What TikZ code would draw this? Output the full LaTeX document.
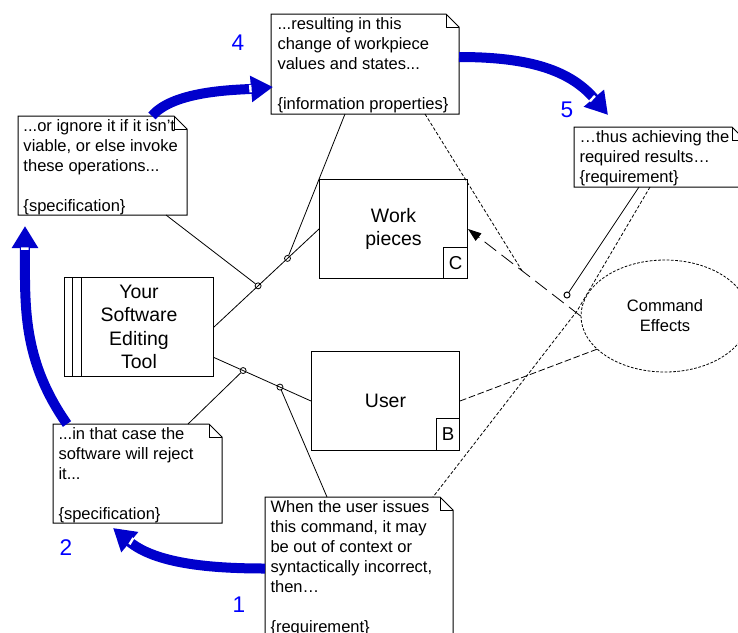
\documentclass[tikz,border=0pt]{standalone}
\usepackage{fontspec}
\setmainfont{Liberation Sans}
\usetikzlibrary{shapes.geometric,arrows.meta,calc,decorations.markings}

\definecolor{arrowblue}{RGB}{0,0,204}
\definecolor{numblue}{RGB}{0,0,255}

\tikzset{every picture/.style={line width=0.75pt}}
\tikzset{
  domainbox/.style={draw, rectangle, inner sep=0pt, anchor=north west, align=center, font=\fontsize{14.6}{17.6}\selectfont},
  cornerbox/.style={draw, rectangle, inner sep=0pt, anchor=south east, font=\fontsize{14}{16}\selectfont},
  notebox/.style={rectangle, inner sep=0pt, anchor=north west},
  notetext/.style={anchor=north west, inner sep=0pt, align=left, font=\fontsize{12.4}{15}\selectfont},
  portdot/.style={draw, circle, inner sep=0pt, minimum size=4.5pt},
  linkline/.style={line width=0.6pt},
  traceline/.style={line width=0.6pt, dash pattern=on 2.5pt off 1.5pt},
  refline/.style={line width=0.6pt, dash pattern=on 5pt off 2pt},
  constrain/.style={line width=0.6pt, dash pattern=on 11pt off 5pt, -{Triangle[length=10pt,width=7pt]}},
  stepnum/.style={text=numblue, inner sep=0pt, font=\fontsize{17}{20}\selectfont},
  bluearrow/.style={draw=arrowblue, line width=7.5pt, -{Triangle[length=16.5pt,width=18.75pt]},
    postaction={decorate, decoration={markings, mark=at position -17pt with {\fill[white] (-0.9pt,-2.8pt) rectangle (0.9pt,2.8pt);}}}}
}

\begin{document}
\begin{tikzpicture}[x=0.75pt,y=0.75pt,yscale=-1,xscale=1]
\useasboundingbox (0,0) rectangle (738,632);
\clip (0,0) rectangle (738,632);

%Shape: Rectangle (machine)
\node[domainbox, minimum width=111.75pt, minimum height=74.25pt] (tool) at (64,277) {Your\\Software\\Editing\\Tool};
\draw ($(tool.north west)+(8.5,0)$) -- ($(tool.south west)+(8.5,0)$);
\draw ($(tool.north west)+(17.5,0)$) -- ($(tool.south west)+(17.5,0)$);
%Shape: Rectangle (domains)
\node[domainbox, minimum width=111pt, minimum height=74.25pt] (work) at (319,179) {Work\\pieces};
\node[cornerbox, minimum width=18pt, minimum height=23.25pt] (workC) at (work.south east) {C};
\node[domainbox, minimum width=111pt, minimum height=74.25pt] (user) at (311,351) {User};
\node[cornerbox, minimum width=17.25pt, minimum height=24pt] (userB) at (user.south east) {B};
%Shape: Ellipse (requirement)
\node[ellipse, draw, line width=0.6pt, dash pattern=on 2pt off 1.2pt, minimum width=126pt, minimum height=84pt, inner sep=0pt, align=center, font=\fontsize{12.4}{15}\selectfont] (cmd) at (665,316) {Command\\Effects};

%Shape: Notes
\node[notebox, minimum width=140.25pt, minimum height=74.25pt] (info) at (271,14) {};
\node[notebox, minimum width=126pt, minimum height=73.5pt] (spec2) at (18,116) {};
\node[notebox, minimum width=127.5pt, minimum height=44.25pt] (req2) at (574,127) {};
\node[notebox, minimum width=126pt, minimum height=73.5pt] (spec1) at (53,424) {};
\node[notebox, minimum width=140.25pt, minimum height=106.5pt] (req1) at (265,497) {};
\foreach \n in {info,spec2,req2,spec1,req1}{
  \draw (\n.north west) -- ($(\n.north east)+(-13,0)$) -- ($(\n.north east)+(0,13)$) -- (\n.south east) -- (\n.south west) -- cycle;
  \draw ($(\n.north east)+(-13,0)$) |- ($(\n.north east)+(0,13)$);
}

% Text Node
\node[notetext] (info-t) at ($(info.north west)+(6,3)$) {...resulting in this\\change of workpiece\\values and states...\\[15pt]\{information properties\}};
% Text Node
\node[notetext] (spec2-t) at ($(spec2.north west)+(5,3)$) {...or ignore it if it isn’t\\viable, or else invoke\\these operations...\\[15pt]\{specification\}};
% Text Node
\node[notetext] (req2-t) at ($(req2.north west)+(5,3)$) {…thus achieving the\\required results…\\\{requirement\}};
% Text Node
\node[notetext] (spec1-t) at ($(spec1.north west)+(5,3)$) {...in that case the\\software will reject\\it...\\[15pt]\{specification\}};
% Text Node
\node[notetext] (req1-t) at ($(req1.north west)+(5,3)$) {When the user issues\\this command, it may\\be out of context or\\syntactically incorrect,\\then…\\[15pt]\{requirement\}};

%Straight Lines (interfaces)
\draw[linkline] (tool.east) -- node[portdot, pos=0.42] (p1) {} node[portdot, pos=0.7] (p2) {} (work.west);
\draw[linkline] ($(tool.east)+(0,30.5)$) -- node[portdot, pos=0.3] (p3) {} node[portdot, pos=0.68] (p4) {} (user.west);
\node[portdot] (p5) at (567,295) {};

%Straight Lines (note links)
\draw[linkline] ($(spec2.south west)+(148,0)$) -- (p1);
\draw[linkline] ($(info.south west)+(74,0)$) -- (p2);
\draw[linkline] ($(spec1.north west)+(135,0)$) -- (p3);
\draw[linkline] ($(req1.north west)+(62,0)$) -- (p4);
\draw[linkline] ($(req2.south west)+(65,0)$) -- (p5);

%Straight Lines (requirement references)
\draw[constrain] (cmd.west) -- coordinate[pos=0.52] (k1) (work.east);
\draw[refline] (user.east) -- (cmd.206);
\draw[traceline] ($(info.south west)+(154,0)$) -- (k1);
\coordinate (bend) at (577,311);
\draw[traceline] ($(req2.south west)+(76,0)$) -- (bend) -- ($(req1.north west)+(168,0)$);

%Curve Lines (steps)
\coordinate (tip1) at (113,528);
\coordinate (tip2) at (25,226);
\coordinate (tip4) at (273,87);
\coordinate (tip5) at (608,115);
\draw[bluearrow] (req1.west) to[out=180, in=40, looseness=0.9] (tip1);
\draw[bluearrow] ($(spec1.north west)+(14,0)$) to[out=235, in=90] (tip2);
\draw[bluearrow] ($(spec2.north west)+(134,0)$) to[out=-50, in=175, looseness=0.7] (tip4);
\draw[bluearrow] ($(info.north east)+(0,43)$) to[out=0, in=-130] (tip5);

% Text Node
\node[stepnum] (num1) at (239,605) {1};
\node[stepnum] (num2) at (66,548) {2};
\node[stepnum] (num4) at (238,43) {4};
\node[stepnum] (num5) at (567,110) {5};

\end{tikzpicture}
\end{document}
